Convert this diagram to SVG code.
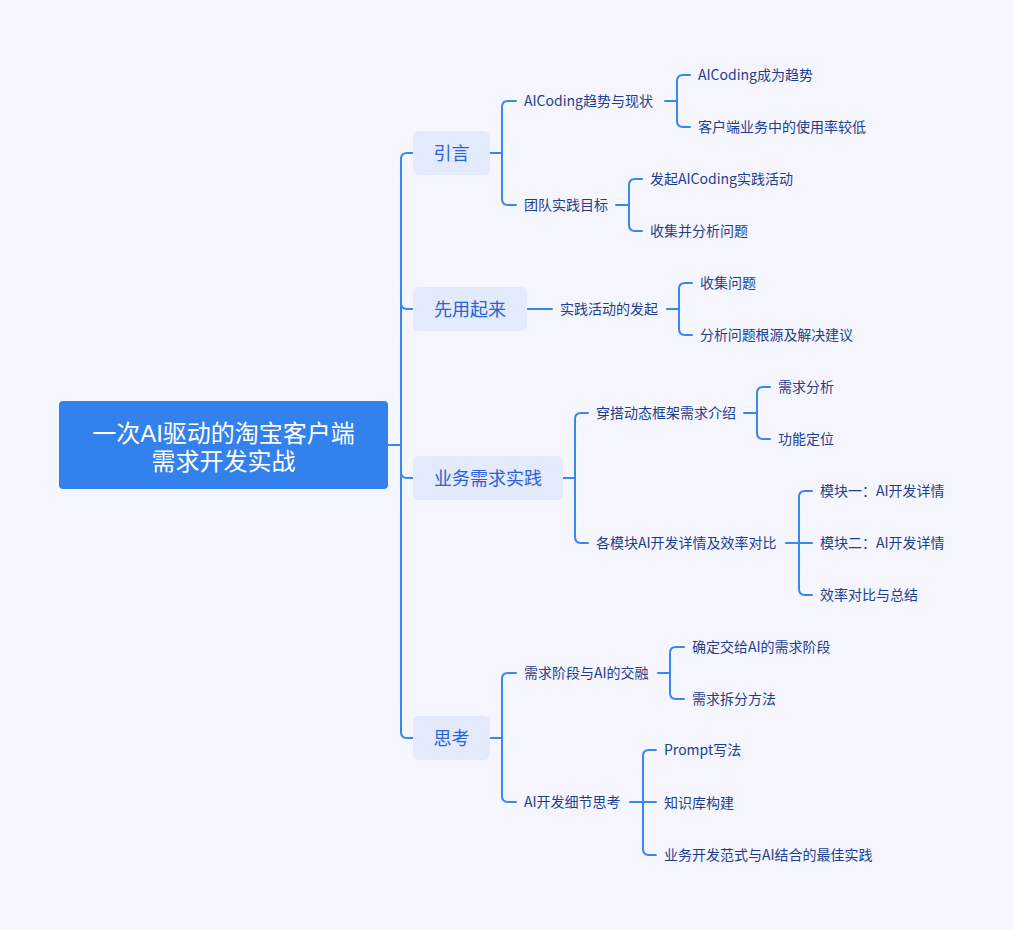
<svg xmlns="http://www.w3.org/2000/svg" width="1014" height="930" viewBox="0 0 1014 930">
<style>
.bg{fill:#f5f6fd}
.root{fill:#3381ec}
.rt{font-family:"Liberation Sans","Noto Sans CJK SC",sans-serif;font-size:24px;fill:#ffffff;text-anchor:middle}
.l1{fill:#e2eafc}
.l1t{font-family:"Noto Sans CJK SC","Noto Sans",sans-serif;font-size:18px;fill:#2a62d6;text-anchor:middle}
.t{font-family:"Noto Sans CJK SC","Noto Sans",sans-serif;font-size:14px;fill:#1e3d8f}
.c path{fill:none;stroke:#3a86ef;stroke-width:2;stroke-linecap:round;stroke-linejoin:round}
</style>
<rect class="bg" x="0" y="0" width="1014" height="930"/>
<g class="c" id="connectors">
<path d="M388,445 H401 V159 Q401,153 407,153 H413"/>
<path d="M401,445 V303 Q401,309 407,309 H413"/>
<path d="M401,445 V472 Q401,478 407,478 H413"/>
<path d="M401,445 V732 Q401,738 407,738 H413"/>
<path d="M490,153 H502 V107 Q502,101 508,101 H516"/>
<path d="M502,153 V199 Q502,205 508,205 H516"/>
<path d="M665,101 H677 V81 Q677,75 683,75 H690"/>
<path d="M677,101 V121 Q677,127 683,127 H690"/>
<path d="M616,205 H629 V185 Q629,179 635,179 H642"/>
<path d="M629,205 V225 Q629,231 635,231 H642"/>
<path d="M527,309 H552"/>
<path d="M667,309 H679 V289 Q679,283 685,283 H692"/>
<path d="M679,309 V329 Q679,335 685,335 H692"/>
<path d="M563,478 H575 V419 Q575,413 581,413 H588"/>
<path d="M575,478 V537 Q575,543 581,543 H588"/>
<path d="M744,413 H757 V393 Q757,387 763,387 H770"/>
<path d="M757,413 V433 Q757,439 763,439 H770"/>
<path d="M786,543 H799 V497 Q799,491 805,491 H812"/>
<path d="M799,543 H812"/>
<path d="M799,543 V589 Q799,595 805,595 H812"/>
<path d="M490,738 H502 V679 Q502,673 508,673 H516"/>
<path d="M502,738 V796 Q502,802 508,802 H516"/>
<path d="M658,673 H670 V653 Q670,647 676,647 H684"/>
<path d="M670,673 V693 Q670,699 676,699 H684"/>
<path d="M630,802 H643 V756 Q643,750 649,750 H656"/>
<path d="M643,802 H656"/>
<path d="M643,802 V849 Q643,855 649,855 H656"/>
</g>
<g id="root">
<rect class="root" x="59" y="401" width="329" height="88" rx="4"/>
<text class="rt" x="223.5" y="442">一次AI驱动的淘宝客户端</text>
<text class="rt" x="223.5" y="470">需求开发实战</text>
</g>
<g id="n-yinyan">
<rect class="l1" x="413" y="131" width="77" height="44" rx="6"/>
<text class="l1t" x="451.5" y="160">引言</text>
</g>
<g id="n-xianyong">
<rect class="l1" x="413" y="287" width="114" height="44" rx="6"/>
<text class="l1t" x="470" y="316">先用起来</text>
</g>
<g id="n-yewu">
<rect class="l1" x="413" y="456" width="150" height="44" rx="6"/>
<text class="l1t" x="488" y="485">业务需求实践</text>
</g>
<g id="n-sikao">
<rect class="l1" x="413" y="716" width="77" height="44" rx="6"/>
<text class="l1t" x="451.5" y="745">思考</text>
</g>
<g id="n-aicoding"><text class="t" x="524" y="106.3">AICoding趋势与现状</text></g>
<g id="n-aicoding1"><text class="t" x="698" y="80.3">AICoding成为趋势</text></g>
<g id="n-aicoding2"><text class="t" x="698" y="132.3" textLength="168" lengthAdjust="spacing">客户端业务中的使用率较低</text></g>
<g id="n-team"><text class="t" x="524" y="210.3">团队实践目标</text></g>
<g id="n-team1"><text class="t" x="650" y="184.3">发起AICoding实践活动</text></g>
<g id="n-team2"><text class="t" x="650" y="236.3">收集并分析问题</text></g>
<g id="n-shijian"><text class="t" x="560" y="314.3">实践活动的发起</text></g>
<g id="n-shijian1"><text class="t" x="700" y="288.3">收集问题</text></g>
<g id="n-shijian2"><text class="t" x="700" y="340.3" textLength="153" lengthAdjust="spacing">分析问题根源及解决建议</text></g>
<g id="n-chuanda"><text class="t" x="596" y="418.3">穿搭动态框架需求介绍</text></g>
<g id="n-chuanda1"><text class="t" x="778" y="392.3">需求分析</text></g>
<g id="n-chuanda2"><text class="t" x="778" y="444.3">功能定位</text></g>
<g id="n-mokuai"><text class="t" x="596" y="548.3">各模块AI开发详情及效率对比</text></g>
<g id="n-mokuai1"><text class="t" x="820" y="496.3">模块一：AI开发详情</text></g>
<g id="n-mokuai2"><text class="t" x="820" y="548.3">模块二：AI开发详情</text></g>
<g id="n-mokuai3"><text class="t" x="820" y="600.3">效率对比与总结</text></g>
<g id="n-jiaorong"><text class="t" x="524" y="678.3">需求阶段与AI的交融</text></g>
<g id="n-jiaorong1"><text class="t" x="692" y="652.3">确定交给AI的需求阶段</text></g>
<g id="n-jiaorong2"><text class="t" x="692" y="704.3">需求拆分方法</text></g>
<g id="n-xijie"><text class="t" x="524" y="807.3">AI开发细节思考</text></g>
<g id="n-xijie1"><text class="t" x="664" y="755.3">Prompt写法</text></g>
<g id="n-xijie2"><text class="t" x="664" y="808.3">知识库构建</text></g>
<g id="n-xijie3"><text class="t" x="664" y="860.3">业务开发范式与AI结合的最佳实践</text></g>
</svg>
